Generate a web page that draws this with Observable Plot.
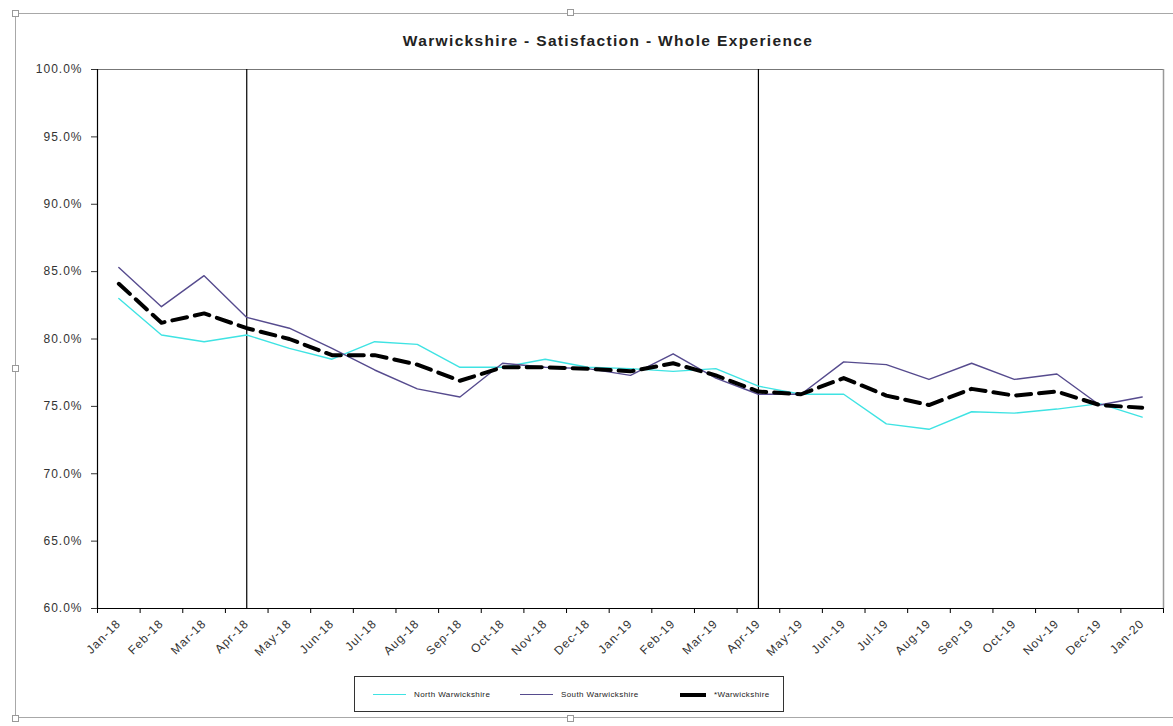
<!DOCTYPE html>
<html>
<head>
<meta charset="utf-8">
<script src="https://cdn.jsdelivr.net/npm/d3@7"></script>
<script src="https://cdn.jsdelivr.net/npm/@observablehq/plot@0.6"></script>
<style>
  html, body { margin: 0; padding: 0; background: #fff; }
  #wrap { position: relative; width: 1173px; height: 726px; overflow: hidden; font-family: "Liberation Sans", Arial, sans-serif; }
  #chart { position: absolute; left: 0; top: 0; }
  #border { position: absolute; left: 15px; top: 13px; width: 1160px; height: 705px; border: 1.5px solid #a8a8a8; box-sizing: border-box; }
  .handle { position: absolute; width: 7px; height: 7px; background: #fff; border: 1px solid #999; box-sizing: border-box; }
  #title { position: absolute; left: 608px; top: 32px; transform: translateX(-50%); font-weight: bold; font-size: 15.5px; letter-spacing: 1.35px; color: #222; white-space: nowrap; }
  #legend { position: absolute; left: 354px; top: 676px; width: 430px; height: 36px; border: 1.5px solid #333; box-sizing: border-box; background: #fff; font-size: 8px; letter-spacing: 0.4px; color: #222; }
  .item { position: absolute; top: 13px; display: flex; align-items: center; white-space: nowrap; }
  .swatch { display: inline-block; width: 33px; margin-right: 8px; }
</style>
</head>
<body>
<div id="wrap">
  <div id="border"></div>
  <div id="chart"></div>
  <div id="title"></div>
  <div id="legend"></div>
</div>
<script>
// ---- data ----
const months = ["Jan-18","Feb-18","Mar-18","Apr-18","May-18","Jun-18","Jul-18","Aug-18","Sep-18","Oct-18","Nov-18","Dec-18",
                "Jan-19","Feb-19","Mar-19","Apr-19","May-19","Jun-19","Jul-19","Aug-19","Sep-19","Oct-19","Nov-19","Dec-19","Jan-20"];
const north = [83.0, 80.3, 79.8, 80.3, 79.3, 78.5, 79.8, 79.6, 77.9, 77.9, 78.5, 77.9,
               77.8, 77.6, 77.8, 76.5, 75.9, 75.9, 73.7, 73.3, 74.6, 74.5, 74.8, 75.2, 74.2];
const south = [85.3, 82.4, 84.7, 81.6, 80.8, 79.3, 77.7, 76.3, 75.7, 78.2, 77.9, 77.8,
               77.3, 78.9, 77.1, 75.9, 75.9, 78.3, 78.1, 77.0, 78.2, 77.0, 77.4, 75.1, 75.7];
const warks = [84.1, 81.2, 81.9, 80.8, 80.0, 78.8, 78.8, 78.1, 76.9, 77.9, 77.9, 77.8,
               77.6, 78.2, 77.3, 76.1, 75.9, 77.1, 75.8, 75.1, 76.3, 75.8, 76.1, 75.1, 74.9];
const yTicks = [60, 65, 70, 75, 80, 85, 90, 95, 100];
const markerMonths = ["Apr-18", "Apr-19"];
const seriesNames = ["North Warwickshire", "South Warwickshire", "*Warwickshire"];
const seriesColors = ["#3fe3e3", "#564b8e", "#000000"];
const titleText = "Warwickshire - Satisfaction - Whole Experience";

// ---- build ----
const idx = months.map((m, i) => i);
const markerIdx = markerMonths.map(m => months.indexOf(m));
const fmt = d => d.toFixed(1) + "%";
const xMin = -0.5, xMax = months.length - 0.5;

const chart = Plot.plot({
  width: 1173,
  height: 726,
  marginLeft: 97,
  marginRight: 10,
  marginTop: 69,
  marginBottom: 118,
  style: { fontFamily: "Liberation Sans, Arial, sans-serif", background: "transparent", letterSpacing: "1px" },
  x: { type: "linear", domain: [xMin, xMax], label: null },
  y: { domain: [60, 100], label: null },
  marks: [
    Plot.ruleY([yTicks[yTicks.length - 1]], { stroke: "#777", strokeWidth: 1.2 }),
    Plot.ruleX([xMax], { stroke: "#999", strokeWidth: 1.5 }),
    Plot.ruleX(markerIdx, { stroke: "#000", strokeWidth: 1.2 }),
    Plot.lineY(north, { x: idx, y: north, stroke: seriesColors[0], strokeWidth: 1.4 }),
    Plot.lineY(south, { x: idx, y: south, stroke: seriesColors[1], strokeWidth: 1.4 }),
    Plot.lineY(warks, { x: idx, y: warks, stroke: seriesColors[2], strokeWidth: 4, strokeDasharray: "15,8" }),
    Plot.ruleX([xMin], { stroke: "#000", strokeWidth: 1.2 }),
    Plot.ruleY([yTicks[0]], { stroke: "#000", strokeWidth: 1.2 }),
    Plot.axisY({ ticks: yTicks, tickFormat: fmt, tickSize: 6, tickPadding: 9, fontSize: 12, color: "#333" }),
    Plot.axisX({ ticks: idx, tickFormat: i => months[i], tickSize: 0, tickPadding: 13, tickRotate: -45, fontSize: 12, color: "#333" }),
    Plot.axisX({ ticks: d3.range(months.length + 1).map(i => i - 0.5), tickFormat: () => "", tickSize: 5, color: "#000" })
  ]
});
document.getElementById("chart").appendChild(chart);
document.getElementById("title").textContent = titleText;

// legend
const legend = document.getElementById("legend");
const lefts = [18, 165, 325];
const widths = [1.8, 1.8, 4];
seriesNames.forEach((name, i) => {
  const it = document.createElement("div");
  it.className = "item";
  it.style.left = lefts[i] + "px";
  const sw = document.createElement("span");
  sw.className = "swatch";
  sw.style.borderTop = widths[i] + "px solid " + seriesColors[i];
  if (i === 2) sw.style.width = "26px";
  const tx = document.createElement("span");
  tx.textContent = name;
  it.appendChild(sw); it.appendChild(tx);
  legend.appendChild(it);
});

// selection handles (decoration)
const wrap = document.getElementById("wrap");
[[12, 10], [567, 9], [12, 365], [567, 715], [12, 715]].forEach(([l, t]) => {
  const h = document.createElement("div");
  h.className = "handle";
  h.style.left = l + "px"; h.style.top = t + "px";
  wrap.appendChild(h);
});
</script>
</body>
</html>
